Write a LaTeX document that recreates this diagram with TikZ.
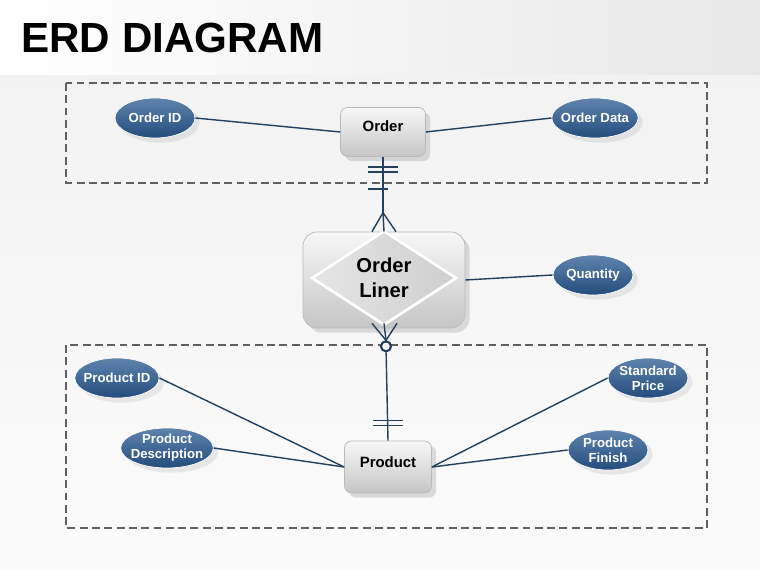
\documentclass[tikz,border=0pt]{standalone}
\usepackage{fontspec}
\setmainfont{Liberation Sans}
\usetikzlibrary{positioning, arrows.meta, shapes.geometric, calc, shadows}
\definecolor{erdblue}{HTML}{2A5A92}
\definecolor{erdline}{HTML}{23405F}

\begin{document}
\begin{tikzpicture}[x=0.02cm, y=-0.02cm,
  attr/.style={ellipse, draw=white, line width=0.4pt, top color=erdblue!75!white, bottom color=erdblue!85!black,
    minimum width=1.6cm, minimum height=0.8cm, inner xsep=-2pt, inner ysep=-1pt, align=center, text=white,
    font=\fontsize{7.5}{8.5}\selectfont\bfseries, drop shadow={opacity=0.15}},
  ent/.style={draw=gray!55, rounded corners=4pt, top color=gray!6, bottom color=gray!45,
    text height=6pt, text depth=6pt,
    font=\fontsize{8.5}{10}\selectfont\bfseries, drop shadow={opacity=0.25}},
  rel/.style={erdline, line width=0.8pt},
  group/.style={draw=gray!75!black, line width=1pt, dash pattern=on 4.5pt off 2.5pt}]
  \useasboundingbox (0,0) rectangle (760,570);
  % background
  \fill[top color=gray!10, bottom color=gray!3] (0,75) rectangle (760,570);
  \fill[left color=white, right color=gray!18] (0,0) rectangle (760,75);
  \node[anchor=west, inner sep=0, font=\fontsize{24}{28}\selectfont\bfseries] (T) at (21,38) {ERD DIAGRAM};

  % groups
  \draw[group] (66,83) rectangle (707,183);
  \draw[group] (66,345) rectangle (707,528);

  % entities
  \node[ent, minimum width=1.7cm, minimum height=0.98cm] (O) at (383,132) {Order};
  \node[ent, minimum width=3.24cm, minimum height=1.92cm, rounded corners=8pt, text height=, text depth=] (L) at (384,280) {};
  \node[diamond, draw=white, line width=1.5pt, inner sep=0, minimum width=2.9cm, minimum height=1.72cm,
    left color=gray!20, right color=gray!38, align=center, font=\fontsize{11.5}{14}\selectfont\bfseries] (D) at ($(L)+(0,-2)$) {Order\\Liner};
  \node[ent, minimum width=1.74cm, minimum height=1.04cm] (P) at (388,467) {Product};

  % attributes
  \node[attr] (OID) at (155,118) {Order ID};
  \node[attr] (OD) at (595,118) {Order Data};
  \node[attr] (Q) at (593,275) {Quantity};
  \node[attr] (PID) at (117,378) {Product ID};
  \node[attr] (PD) at (167,448) {Product\\Description};
  \node[attr] (SP) at (648,378) {Standard\\Price};
  \node[attr] (PF) at (608,450) {Product\\Finish};

  \draw[rel] (OID.east) -- (O.west);
  \draw[rel] (OD.west) -- (O.east);
  \draw[rel] (Q.west) -- (L.east);
  \draw[rel] (PID.east) -- (P.west);
  \draw[rel] (PD.east) -- (P.west);
  \draw[rel] (SP.west) -- (P.east);
  \draw[rel] (PF.west) -- (P.east);

  % Order -- Order Liner
  \coordinate (A1) at ($(L.north)+(-1,-19)$);
  \draw[rel] (O.south) -- (A1);
  \draw[rel] ($(O.south)+(-15,10)$) -- ++(30,0);
  \draw[rel] ($(O.south)+(-15,15)$) -- ++(30,0);
  \draw[rel] ($(O.south)+(-15,32)$) -- ++(20,0);
  \foreach \dx in {-12,0,12}
    \draw[rel] (A1) -- ($(L.north)+(\dx,0)$);

  % Order Liner -- Product
  \coordinate (A2) at ($(L.south)+(2,12)$);
  \foreach \dx in {-12,0,13}
    \draw[rel] (A2) -- ($(L.south)+(\dx,-5)$);
  \node[circle, draw=erdline, line width=1.2pt, fill=white, inner sep=0, minimum size=0.2cm] (C) at ($(A2)+(0,6)$) {};
  \draw[rel] (A2) -- (C);
  \draw[rel] (C) -- (P.north);
  \draw[rel] ($(P.north)+(-15,-20)$) -- ++(30,0);
  \draw[rel] ($(P.north)+(-15,-15)$) -- ++(30,0);
\end{tikzpicture}
\end{document}
